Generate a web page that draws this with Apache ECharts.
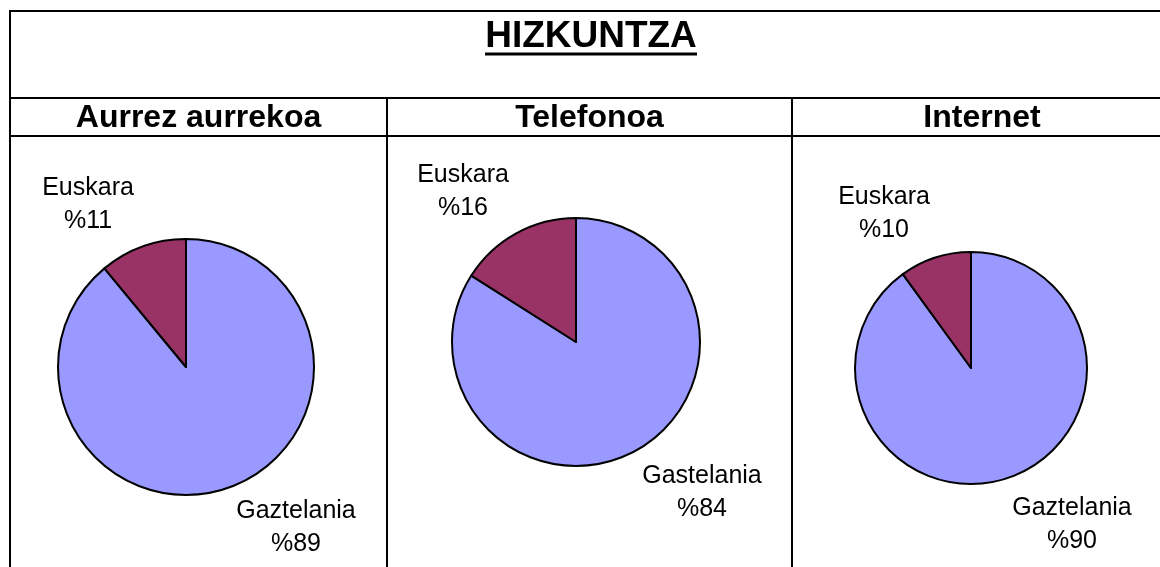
<!DOCTYPE html>
<html>
<head>
<meta charset="utf-8">
<script src="https://cdn.jsdelivr.net/npm/echarts@6/dist/echarts.min.js"></script>
<style>
  html, body { margin: 0; padding: 0; background: #fff; }
  #chart { width: 1160px; height: 567px; }
</style>
</head>
<body>
<div id="chart"></div>
<script>
// datuak
const titleText = 'HIZKUNTZA';
const panels = ['Aurrez aurrekoa', 'Telefonoa', 'Internet'];
const spanishNames = ['Gaztelania', 'Gastelania', 'Gaztelania'];
const basqueNames = ['Euskara', 'Euskara', 'Euskara'];
const spanishValues = [89, 84, 90];
const basqueValues = [11, 16, 10];

// layout (pixels)
const colEdges = [10, 387, 792, 1172];
const pieCenters = [[186, 367], [576, 342], [971, 368]];
const pieRadius = [128, 124, 116];
// label block centers: [spanish, basque]
const labelSpots = [
    [[296, 528], [88, 205]],
    [[702, 493], [463, 192]],
    [[1072, 525], [884, 214]]
];

const font = '"Liberation Sans", Arial, sans-serif';
const line = (x1, y1, x2, y2, w) => ({
    type: 'line',
    shape: { x1: x1, y1: y1, x2: x2, y2: y2 },
    style: { stroke: '#000', lineWidth: w || 2 },
    silent: true
});

let myChart = echarts.init(document.getElementById('chart'));

let graphics = [
    line(colEdges[0], 11, 1160, 11),
    line(colEdges[0], 98, 1160, 98),
    line(colEdges[0], 136, 1160, 136),
    line(colEdges[0], 10, colEdges[0], 567),
    line(colEdges[1], 98, colEdges[1], 567),
    line(colEdges[2], 98, colEdges[2], 567),
    {
        type: 'text',
        x: 591, y: 37,
        style: {
            text: titleText,
            font: 'bold 37px ' + font,
            fill: '#000',
            textAlign: 'center',
            textVerticalAlign: 'middle'
        }
    },
    line(485, 54, 697, 54, 3)
];

panels.forEach((p, i) => {
    graphics.push({
        type: 'text',
        x: (colEdges[i] + colEdges[i + 1]) / 2,
        y: 118,
        style: {
            text: p,
            font: 'bold 32px ' + font,
            fill: '#000',
            textAlign: 'center',
            textVerticalAlign: 'middle'
        }
    });
});

let series = panels.map((p, i) => ({
    name: p,
    type: 'pie',
    center: pieCenters[i],
    radius: pieRadius[i],
    startAngle: 90,
    clockwise: true,
    silent: true,
    itemStyle: {
        borderColor: '#000',
        borderWidth: 2
    },
    label: {
        show: true,
        position: 'outside',
        formatter: '{b}\n%{c}',
        color: '#000',
        fontFamily: font,
        fontSize: 25,
        lineHeight: 33,
        align: 'center',
        overflow: 'none'
    },
    labelLine: { show: false },
    labelLayout: function (params) {
        let spot = labelSpots[i][params.dataIndex];
        return { x: spot[0], y: spot[1], align: 'center', verticalAlign: 'middle' };
    },
    emphasis: { disabled: true },
    data: [
        { value: spanishValues[i], name: spanishNames[i], itemStyle: { color: '#9999FF' } },
        { value: basqueValues[i], name: basqueNames[i], itemStyle: { color: '#993366' } }
    ]
}));

let option = {
    backgroundColor: '#fff',
    animation: false,
    graphic: graphics,
    series: series
};
myChart.setOption(option);
</script>
</body>
</html>
